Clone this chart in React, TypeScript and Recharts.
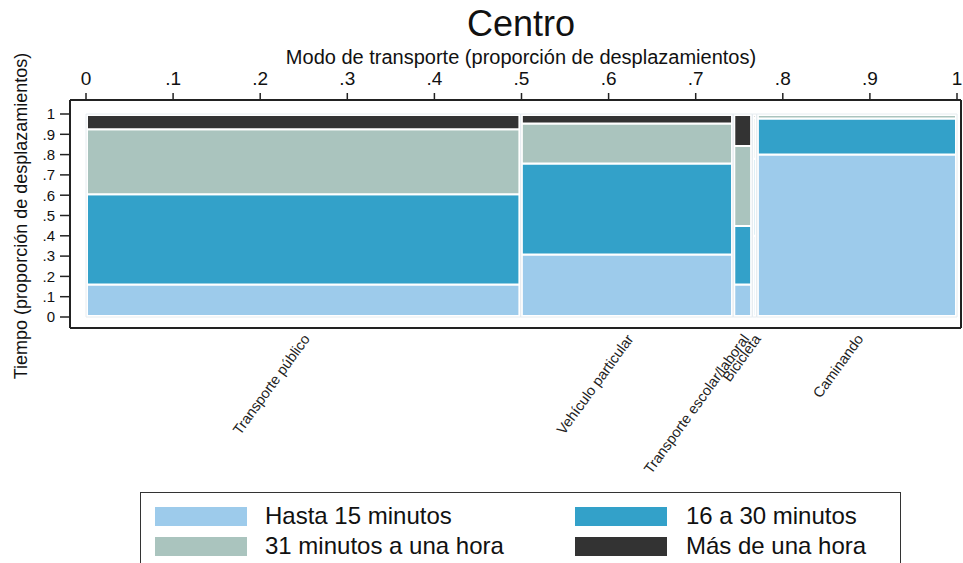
import React from 'react';
import { ComposedChart, XAxis, YAxis, ReferenceArea, Legend, Label, Scatter } from 'recharts';

// categorias (modo de transporte) y su proporcion de desplazamientos
const modes = ['Transporte público', 'Vehículo particular', 'Transporte escolar/laboral', 'Bicicleta', 'Caminando'];
const modeShare = [0.499, 0.244, 0.022, 0.005, 0.23];

// tiempo de viaje, proporcion dentro de cada modo
const timeLabels = ['Hasta 15 minutos', '16 a 30 minutos', '31 minutos a una hora', 'Más de una hora'];
const hasta15 = [0.16, 0.308, 0.16, 0.4, 0.8];
const de16a30 = [0.445, 0.448, 0.288, 0.38, 0.178];
const de31a60 = [0.32, 0.197, 0.394, 0.2, 0.017];
const masDeUnaHora = [0.075, 0.047, 0.158, 0.02, 0.005];

const timeColors = ['#9dcbeb', '#33a1c9', '#aac4be', '#333333'];

const xTicks = [0, 0.1, 0.2, 0.3, 0.4, 0.5, 0.6, 0.7, 0.8, 0.9, 1];
const yTicks = [0, 0.1, 0.2, 0.3, 0.4, 0.5, 0.6, 0.7, 0.8, 0.9, 1];

const FONT = '"Liberation Sans", Arial, Helvetica, sans-serif';

const series = [hasta15, de16a30, de31a60, masDeUnaHora];
const starts = modeShare.map((_, i) => modeShare.slice(0, i).reduce((a, b) => a + b, 0));
const centers = starts.map((s, i) => s + modeShare[i] / 2);

type Cell = { key: string; x1: number; x2: number; y1: number; y2: number; fill: string; cx: number; cy: number };
const cells: Cell[] = [];
modes.forEach((m, i) => {
  let y0 = 0;
  series.forEach((s, k) => {
    const x1 = starts[i];
    const x2 = starts[i] + modeShare[i];
    cells.push({ key: `${m}-${k}`, x1, x2, y1: y0, y2: y0 + s[i], fill: timeColors[k], cx: (x1 + x2) / 2, cy: y0 + s[i] / 2 });
    y0 += s[i];
  });
});
const catPoints = centers.map((c) => ({ cx: c, cy: 0 }));

const fmt = (v: number) => (v === 0 ? '0' : v === 1 ? '1' : '.' + Math.round(v * 10));

const CategoryTick = (props: any) => {
  const { x, y, payload } = props;
  const idx = centers.findIndex((c) => Math.abs(c - payload.value) < 1e-6);
  return (
    <g transform={`translate(${x + 3},${y})`}>
      <text textAnchor="end" transform="rotate(-54)" dy="0.35em" fontSize={14.5} fill="#222" fontFamily={FONT}>
        {modes[idx]}
      </text>
    </g>
  );
};

const LegendBox = () => (
  <div
    style={{
      position: 'relative',
      width: 761,
      height: 80,
      border: '1.5px solid #333',
      boxSizing: 'border-box',
      background: '#fff',
      fontFamily: FONT,
      fontSize: 24,
      color: '#111',
    }}
  >
    {timeLabels.map((t, k) => {
      const col = k % 2;
      const row = Math.floor(k / 2);
      return (
        <div key={t}>
          <div
            style={{
              position: 'absolute',
              left: 14 + col * 420,
              top: 14 + row * 30,
              width: 92,
              height: 19,
              background: timeColors[k],
            }}
          />
          <div style={{ position: 'absolute', left: 124 + col * 421, top: 9 + row * 30, lineHeight: '28px', whiteSpace: 'nowrap' }}>
            {t}
          </div>
        </div>
      );
    })}
  </div>
);

export default function App() {
  return (
    <div style={{ position: 'absolute', left: 0, top: 0, width: 963, height: 563, overflow: 'hidden', background: '#fff' }}>
      <ComposedChart width={963} height={563} margin={{ top: 60, right: 1, bottom: 0, left: 0 }}>
        <XAxis
          xAxisId="top"
          dataKey="cx"
          orientation="top"
          type="number"
          domain={[0, 1]}
          ticks={xTicks}
          tickFormatter={fmt}
          interval={0}
          height={40}
          padding={{ left: 16, right: 4 }}
          axisLine={{ stroke: '#222', strokeWidth: 2 }}
          tickLine={{ stroke: '#222', strokeWidth: 1.5 }}
          tickSize={7}
          tickMargin={8}
          tick={{ fill: '#111', fontSize: 19, fontFamily: FONT }}
        >
          <Label
            content={() => (
              <g>
                <text x={521} y={23} textAnchor="middle" dominantBaseline="central" fontSize={36} fill="#111" fontFamily={FONT}>
                  Centro
                </text>
                <text x={521} y={57} textAnchor="middle" dominantBaseline="central" fontSize={20} fill="#111" fontFamily={FONT}>
                  Modo de transporte (proporción de desplazamientos)
                </text>
              </g>
            )}
          />
        </XAxis>
        <XAxis
          xAxisId="cat"
          dataKey="cx"
          orientation="bottom"
          type="number"
          domain={[0, 1]}
          ticks={centers}
          interval={0}
          height={235}
          padding={{ left: 16, right: 4 }}
          axisLine={{ stroke: '#222', strokeWidth: 2 }}
          tickLine={false}
          tickSize={0}
          tickMargin={8}
          tick={<CategoryTick />}
        />
        <YAxis
          yAxisId="left"
          dataKey="cy"
          type="number"
          domain={[0, 1]}
          ticks={yTicks}
          tickFormatter={fmt}
          interval={0}
          width={70}
          padding={{ top: 14, bottom: 11 }}
          axisLine={{ stroke: '#222', strokeWidth: 2 }}
          tickLine={{ stroke: '#222', strokeWidth: 1.5 }}
          tickSize={10}
          tickMargin={5}
          tick={{ fill: '#111', fontSize: 15, fontFamily: FONT }}
        >
          <Label
            content={() => (
              <text
                x={21}
                y={216}
                transform="rotate(-90 21 216)"
                textAnchor="middle"
                dominantBaseline="central"
                fontSize={18}
                fill="#111"
                fontFamily={FONT}
              >
                Tiempo (proporción de desplazamientos)
              </text>
            )}
          />
        </YAxis>
        <YAxis
          yAxisId="right"
          dataKey="cy"
          orientation="right"
          type="number"
          domain={[0, 1]}
          width={1}
          padding={{ top: 14, bottom: 11 }}
          axisLine={{ stroke: '#222', strokeWidth: 2 }}
          tick={false}
          tickLine={false}
        />
        {/* puntos invisibles: dan datos a los ejes */}
        <Scatter data={cells} xAxisId="top" yAxisId="left" dataKey="cy" shape={() => <g />} isAnimationActive={false} />
        <Scatter data={catPoints} xAxisId="cat" yAxisId="right" dataKey="cy" shape={() => <g />} isAnimationActive={false} />
        {cells.map((c) => (
          <ReferenceArea
            key={c.key}
            xAxisId="top"
            yAxisId="left"
            x1={c.x1}
            x2={c.x2}
            y1={c.y1}
            y2={c.y2}
            fill={c.fill}
            fillOpacity={1}
            stroke="#fff"
            strokeWidth={2}
            ifOverflow="visible"
          />
        ))}
        {modes.map((m, i) => (
          <ReferenceArea
            key={`frame-${m}`}
            xAxisId="top"
            yAxisId="left"
            x1={starts[i]}
            x2={starts[i] + modeShare[i]}
            y1={0}
            y2={1}
            fill="none"
            stroke="#fff"
            strokeWidth={4}
            ifOverflow="visible"
          />
        ))}
        {modes.map((m, i) => (
          <ReferenceArea
            key={`edge-${m}`}
            xAxisId="top"
            yAxisId="left"
            x1={starts[i]}
            x2={starts[i] + modeShare[i]}
            y1={0}
            y2={1}
            fill="none"
            stroke="#e6ecf0"
            strokeWidth={1}
            ifOverflow="visible"
          />
        ))}
        <Legend
          layout="horizontal"
          verticalAlign="middle"
          align="center"
          wrapperStyle={{ left: 140, top: 492, width: 761, height: 80 }}
          content={() => <LegendBox />}
        />
      </ComposedChart>
    </div>
  );
}
